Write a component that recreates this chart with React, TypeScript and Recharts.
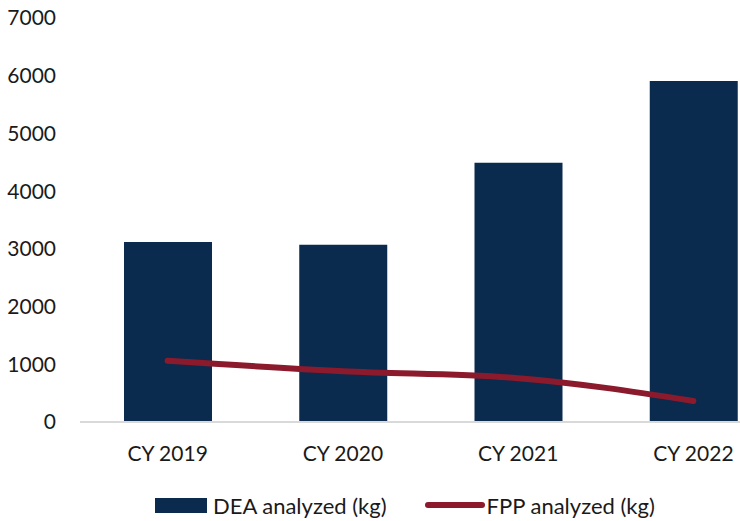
import React from "react";
import {
  ComposedChart,
  Bar,
  Line,
  XAxis,
  YAxis,
  Legend,
} from "recharts";

const years = ["CY 2019", "CY 2020", "CY 2021", "CY 2022"];
const deaAnalyzed = [3120, 3070, 4490, 5910];
const fppAnalyzed = [1060, 880, 760, 365];
const yTicks = [0, 1000, 2000, 3000, 4000, 5000, 6000, 7000];

const data = years.map((year, i) => ({
  year,
  dea: deaAnalyzed[i],
  fpp: fppAnalyzed[i],
}));

const NAVY = "#0A2A4E";   // bars
const MAROON = "#8B1A2C"; // line
const FONT = "Lato, 'Open Sans', sans-serif";

const axisTick = { fontSize: 21, fill: "#1a1a1a", fontFamily: FONT };

function ChartLegend() {
  return (
    <div
      style={{
        height: 32,
        display: "flex",
        alignItems: "center",
        paddingLeft: 155,
        fontFamily: FONT,
        fontSize: 22,
        color: "#1a1a1a",
      }}
    >
      <span style={{ width: 52, height: 15, background: NAVY, display: "inline-block", marginRight: 6 }} />
      <span style={{ marginRight: 38 }}>DEA analyzed (kg)</span>
      <span style={{ width: 60, height: 6, borderRadius: 3, background: MAROON, display: "inline-block", marginRight: 2 }} />
      <span>FPP analyzed (kg)</span>
    </div>
  );
}

export default function App() {
  return (
    <div style={{ position: "absolute", left: 0, top: 0, width: 740, height: 521, overflow: "hidden", background: "#fff" }}>
      <ComposedChart
        width={800}
        height={521}
        data={data}
        barCategoryGap="50%"
        margin={{ top: 18, right: 19, left: 0, bottom: 0 }}
      >
        <XAxis
          dataKey="year"
          tick={axisTick}
          tickLine={false}
          axisLine={{ stroke: "#D9D9D9", strokeWidth: 2 }}
          tickMargin={18}
          height={67}
        />
        <YAxis
          width={80}
          domain={[0, 7000]}
          ticks={yTicks}
          tick={axisTick}
          tickLine={false}
          axisLine={false}
          tickMargin={18}
        />
        <Legend
          verticalAlign="bottom"
          content={() => <ChartLegend />}
          wrapperStyle={{ left: 0, width: 740 }}
        />
        <Bar dataKey="dea" name="DEA analyzed (kg)" fill={NAVY} barSize={88} isAnimationActive={false} />
        <Line
          type="monotone"
          dataKey="fpp"
          name="FPP analyzed (kg)"
          stroke={MAROON}
          strokeWidth={6}
          strokeLinecap="round"
          dot={false}
          activeDot={false}
          isAnimationActive={false}
        />
      </ComposedChart>
    </div>
  );
}
